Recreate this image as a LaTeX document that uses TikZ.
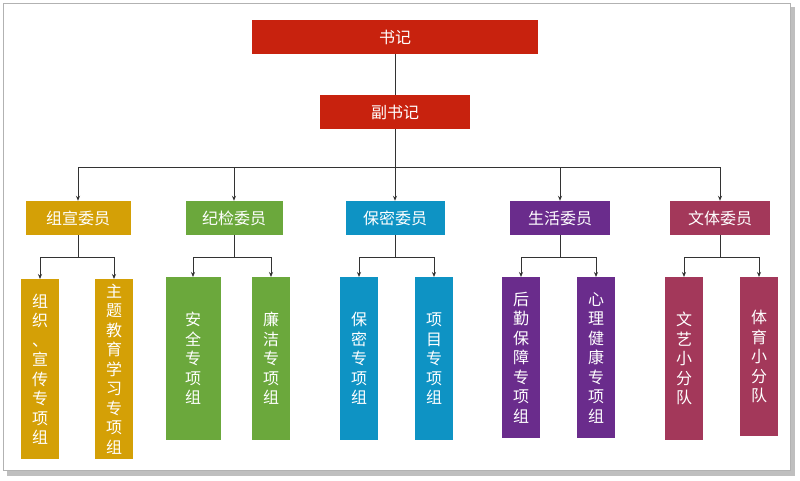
\documentclass[tikz,border=0pt]{standalone}
\usepackage{fontspec}
\newfontfamily\cjk{Noto Sans CJK SC}
\usetikzlibrary{arrows.meta,positioning,calc}
\definecolor{cred}{HTML}{C8220E}
\definecolor{cgold}{HTML}{D4A006}
\definecolor{cgreen}{HTML}{6BA83C}
\definecolor{cblue}{HTML}{0E93C4}
\definecolor{cpurple}{HTML}{6A2C8C}
\definecolor{cmaroon}{HTML}{A3385A}
\begin{document}
\begin{tikzpicture}[x=1pt,y=-1pt,
        box/.style={rectangle, inner sep=0pt, text=white,
            font=\cjk\fontsize{16}{19}\selectfont},
        head/.style={box, minimum width=#1, minimum height=34},
        col/.style={box, anchor=north, minimum width=38, align=center,
            font=\cjk\fontsize{16}{19.5}\selectfont},
        link/.style={thick, black!80},
        arr/.style={link, -{Stealth[length=5pt,width=4pt]}}
      ]
  \useasboundingbox (0,0) rectangle (800,480);
  % frame
  \fill[black!25] (7,7) rectangle (795,476);
  \fill[white, draw=black!30] (3,3) rectangle (790,470);

  \node[head=286, fill=cred] (S) at (395,37) {书记};
  \node[head=150, fill=cred] (F) at (395,112) {副书记};

  \node[head=105, fill=cgold] (A) at (78,218) {组宣委员};
  \node[head=97, fill=cgreen] (B) at (234,218) {纪检委员};
  \node[head=99, fill=cblue] (C) at (395,218) {保密委员};
  \node[head=100, fill=cpurple] (D) at (560,218) {生活委员};
  \node[head=100, fill=cmaroon] (E) at (720,218) {文体委员};

  \node[col, fill=cgold, minimum height=180] (A1) at (40,279) {组\\织\\、\\宣\\传\\专\\项\\组};
  \node[col, fill=cgold, minimum height=180] (A2) at (114,279) {主\\题\\教\\育\\学\\习\\专\\项\\组};
  \node[col, fill=cgreen, minimum width=55, minimum height=163] (B1) at (193,277) {安\\全\\专\\项\\组};
  \node[col, fill=cgreen, minimum height=163] (B2) at (271,277) {廉\\洁\\专\\项\\组};
  \node[col, fill=cblue, minimum height=163] (C1) at (359,277) {保\\密\\专\\项\\组};
  \node[col, fill=cblue, minimum height=163] (C2) at (434,277) {项\\目\\专\\项\\组};
  \node[col, fill=cpurple, minimum height=161] (D1) at (521,277) {后\\勤\\保\\障\\专\\项\\组};
  \node[col, fill=cpurple, minimum height=161] (D2) at (596,277) {心\\理\\健\\康\\专\\项\\组};
  \node[col, fill=cmaroon, minimum height=163] (E1) at (684,277) {文\\艺\\小\\分\\队};
  \node[col, fill=cmaroon, minimum height=159] (E2) at (759,277) {体\\育\\小\\分\\队};

  \coordinate (H) at (395,167);
  \draw[link] (S) -- (F);
  \draw[link] (F) -- (H);
  \draw[link] (A |- H) -- (E |- H);
  \foreach \n in {A,B,C,D,E}
    \draw[arr] (\n |- H) -- (\n);

  \foreach \n in {A,B,C,D,E} {
    \coordinate (\n h) at ($(\n.south)+(0,22)$);
    \draw[link] (\n.south) -- (\n h);
    \draw[link] (\n1 |- \n h) -- (\n2 |- \n h);
    \draw[arr] (\n1 |- \n h) -- (\n1);
    \draw[arr] (\n2 |- \n h) -- (\n2);
  }
\end{tikzpicture}
\end{document}
